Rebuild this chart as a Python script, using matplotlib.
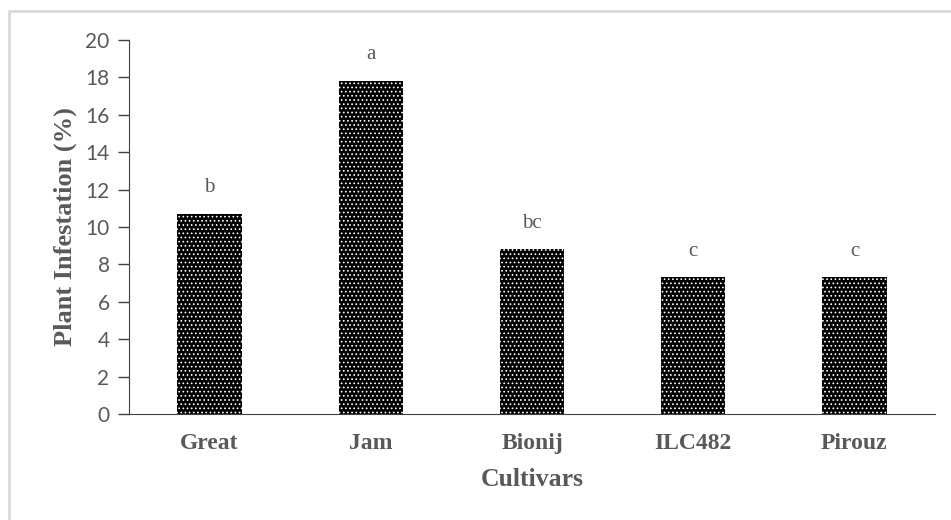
import matplotlib.pyplot as plt
from matplotlib.patches import Rectangle

# ---------------------------------------------------------------------------
# Data
# ---------------------------------------------------------------------------
cultivars = ["Great", "Jam", "Bionij", "ILC482", "Pirouz"]
infestation = [10.7, 17.8, 8.8, 7.3, 7.3]
groups = ["b", "a", "bc", "c", "c"]
yticks = [0, 2, 4, 6, 8, 10, 12, 14, 16, 18, 20]

GRAY = "#595959"
plt.rcParams["hatch.linewidth"] = 0.7

fig = plt.figure(figsize=(9.51, 5.2), dpi=100)
ax = fig.add_axes([129 / 951, 1 - 414 / 520, 806 / 951, 374 / 520])

x = range(len(cultivars))
ax.bar(x, infestation, width=0.4, color="black", edgecolor="white",
       linewidth=0, hatch="....")

for xi, v, g in zip(x, infestation, groups):
    ax.text(xi, v + 0.9, g, ha="center", va="bottom", fontsize=15,
            family="Liberation Serif", color=GRAY)

ax.set_xlim(-0.5, len(cultivars) - 0.5)
ax.set_ylim(0, 20)
ax.set_yticks(yticks)
ax.set_xticks(list(x))
ax.set_xticklabels(cultivars, family="Liberation Serif", fontweight="bold",
                   fontsize=17, color=GRAY)
for lab in ax.get_yticklabels():
    lab.set_family("Lato")
    lab.set_fontsize(15)
    lab.set_color(GRAY)

ax.tick_params(axis="y", direction="out", length=8, width=1, color="#404040", pad=6)
ax.tick_params(axis="x", length=0, pad=14)

for side in ("top", "right"):
    ax.spines[side].set_visible(False)
ax.spines["left"].set_color("#404040")
ax.spines["bottom"].set_color("#404040")

ax.set_xlabel("Cultivars", family="Liberation Serif", fontweight="bold",
              fontsize=18.5, color=GRAY, labelpad=10)
ax.set_ylabel("Plant Infestation (%)", family="Liberation Serif",
              fontweight="bold", fontsize=19, color=GRAY, labelpad=6)

# light frame around the chart area
fig.patches.append(Rectangle((9 / 951, -0.1), 1.1, 1 - 11 / 520 + 0.1,
                             transform=fig.transFigure, fill=False,
                             edgecolor="#D9D9D9", linewidth=2))

fig.savefig("out.png", dpi=100)
